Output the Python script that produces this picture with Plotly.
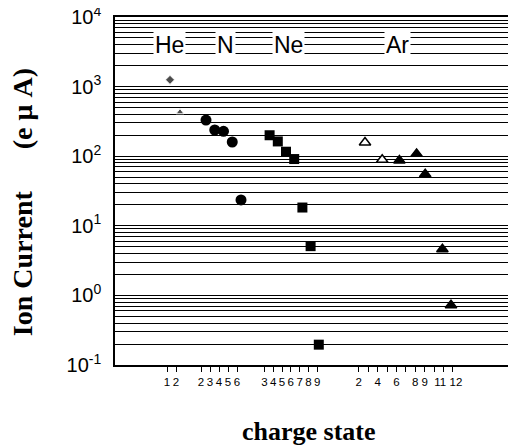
import plotly.graph_objects as go

# ---- data ----
he_charge = [1, 2]
he_current = [1250, 430]
n_charge = [2, 3, 4, 5, 6]
n_current = [330, 238, 228, 160, 23.5]
ne_charge = [3, 4, 5, 6, 7, 8, 9]
ne_current = [200, 163, 116, 91, 18.3, 5.1, 0.196]
ar_charge = [2, 4, 6, 8, 9, 11, 12]
ar_current = [157, 89, 87, 108, 55, 4.6, 0.72]
ar_open = [True, True, False, False, False, False, False]

he_ticklabels = ["1", "2"]
n_ticklabels = ["2", "3", "4", "5", "6"]
ne_ticklabels = ["3", "4", "5", "6", "7", "8", "9"]
ar_labelled = [2, 4, 6, 8, 9, 11, 12]
y_tickvals = [0.1, 1, 10, 100, 1000, 10000]
y_ticktext = ["10<sup>-1</sup>", "10<sup>0</sup>", "10<sup>1</sup>", "10<sup>2</sup>",
              "10<sup>3</sup>", "10<sup>4</sup>"]
element_names = ["He", "N", "Ne", "Ar"]

# ---- placement of the charge-state groups along x (axis units ~ px) ----
# marks scale (base, step) and tick-label scale (base, step), as in the hand-made original
point_scale = {"He": (160.0, 10.0), "N": (188.5, 8.75), "Ne": (245.0, 8.2), "Ar": (347.8, 8.6)}
tick_scale = {"He": (158.0, 9.0), "N": (183.0, 9.0), "Ne": (238.0, 8.8), "Ar": (340.0, 9.4)}


def pos(scale, el, q):
    b, s = scale[el]
    return [b + s * c for c in q]


fig = go.Figure()

fig.add_trace(go.Scatter(x=pos(point_scale, "He", he_charge), y=he_current, mode="markers",
                         marker=dict(symbol=["diamond", "triangle-up"], size=[7, 7],
                                     color="black"),
                         showlegend=False))
fig.add_trace(go.Scatter(x=pos(point_scale, "N", n_charge), y=n_current, mode="markers",
                         marker=dict(symbol="circle", size=11, color="black"),
                         showlegend=False))
fig.add_trace(go.Scatter(x=pos(point_scale, "Ne", ne_charge), y=ne_current, mode="markers",
                         marker=dict(symbol="square", size=10, color="black"),
                         showlegend=False))
fig.add_trace(go.Scatter(x=pos(point_scale, "Ar", ar_charge), y=ar_current, mode="markers",
                         marker=dict(symbol="triangle-up", size=10,
                                     color=["white" if o else "black" for o in ar_open],
                                     line=dict(color="black", width=1.5)),
                         showlegend=False))

nb = "\u00a0"

# x ticks
tickvals = []
ticktext = []
for q, t in zip(he_charge, he_ticklabels):
    tickvals += pos(tick_scale, "He", [q]); ticktext.append(t)
for q, t in zip(n_charge, n_ticklabels):
    tickvals += pos(tick_scale, "N", [q]); ticktext.append(t)
for q, t in zip(ne_charge, ne_ticklabels):
    tickvals += pos(tick_scale, "Ne", [q]); ticktext.append(t)
ar_max = max(ar_charge)
for q in range(min(ar_charge), ar_max + 1):
    tickvals += pos(tick_scale, "Ar", [q])
    if q not in ar_labelled:
        ticktext.append("")
    elif q == ar_max - 1:
        ticktext.append(str(q) + nb * 2)   # keep the two-digit labels apart
    elif q == ar_max:
        ticktext.append(nb * 2 + str(q))
    else:
        ticktext.append(str(q))

fig.update_xaxes(range=[115, 515], tickvals=tickvals, ticktext=ticktext, tickangle=0,
                 automargin=False,
                 ticks="outside", ticklen=5, tickcolor="black", tickwidth=1,
                 showgrid=False, zeroline=False,
                 showline=True, linecolor="black", linewidth=1.5, mirror=True,
                 tickfont=dict(family="Liberation Sans, Arial", size=11.5, color="black"))

fig.update_yaxes(type="log", range=[-1, 4], tickvals=y_tickvals, ticktext=y_ticktext,
                 automargin=False, ticklabeloverflow="allow",
                 ticks="", showgrid=True, gridcolor="#000", gridwidth=1.3,
                 minor=dict(dtick="D1", showgrid=True, gridcolor="#000", gridwidth=1.2, ticks=""),
                 showline=True, linecolor="black", linewidth=1.5, mirror=True,
                 ticklabelstandoff=8,
                 tickfont=dict(family="Liberation Sans, Arial", size=20, color="black"))

# element labels
label_x = [169, 225, 288, 397]
for name, lx in zip(element_names, label_x):
    fig.add_annotation(x=lx, y=3.6, xref="x", yref="y", text=name, showarrow=False,
                       bgcolor="white", borderpad=1,
                       font=dict(family="Liberation Sans, Arial", size=23, color="black"))

fig.add_annotation(xref="paper", yref="paper", x=-0.2325, y=0.468,
                   xanchor="center", yanchor="middle",
                   text="<b>Ion" + nb + "Current" + nb * 6 + "(e" + nb + "μ" + nb + "A)</b>",
                   textangle=-90, showarrow=False,
                   font=dict(family="Liberation Serif, Times New Roman", size=28, color="black"))
fig.add_annotation(xref="paper", yref="paper", x=0.485, y=-0.19,
                   xanchor="center", yanchor="middle",
                   text="<b>charge state</b>", showarrow=False,
                   font=dict(family="Liberation Serif, Times New Roman", size=26, color="black"))

# the page body adds an 8px offset, so the figure is 8px smaller and margins shifted
fig.update_layout(width=508, height=439, margin=dict(l=107, r=1, t=9, b=82),
                  plot_bgcolor="white", paper_bgcolor="white")

fig.write_html("out.html")
